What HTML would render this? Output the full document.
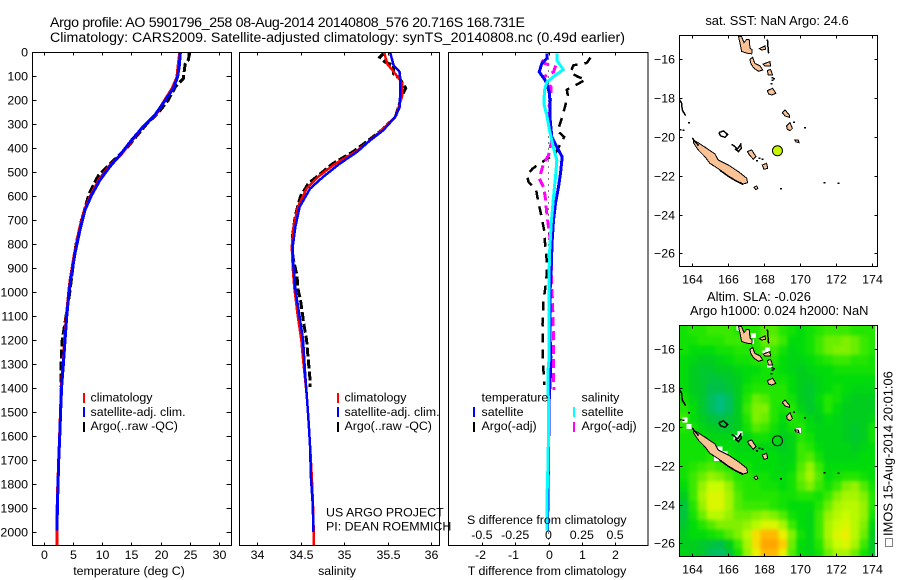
<!DOCTYPE html>
<html lang="en">
<head>
<meta charset="utf-8">
<title>Argo profile 5901796_258</title>
<style>
html,body{margin:0;padding:0;background:#fff;}
svg{display:block;}
text{font-family:"Liberation Sans",Arial,sans-serif;font-size:12.4px;fill:#000;}
.title{font-size:14.2px;}
.maptitle{font-size:12.9px;}
</style>
</head>
<body>
<svg id="chart" width="900" height="580" viewBox="0 0 900 580" xmlns="http://www.w3.org/2000/svg">
<defs>
<clipPath id="clip-top-map"><rect x="679.5" y="35.5" width="198" height="231"/></clipPath>
<clipPath id="clip-bottom-map"><rect x="679.5" y="325.5" width="198" height="231"/></clipPath>
<clipPath id="clip-p1"><rect x="32.5" y="52.5" width="199" height="493"/></clipPath>
<clipPath id="clip-p2"><rect x="239.5" y="52.5" width="200" height="493"/></clipPath>
<clipPath id="clip-p3"><rect x="448.5" y="52.5" width="199.5" height="493"/></clipPath>
<filter id="sla-smooth" filterUnits="userSpaceOnUse" x="640" y="290" width="260" height="290" color-interpolation-filters="sRGB"><feGaussianBlur stdDeviation="1.8"/></filter>
</defs>
<g id="layer-marks"></g>
<text class="title" x="50" y="27" textLength="475" lengthAdjust="spacing">Argo profile: AO 5901796_258 08-Aug-2014 20140808_576 20.716S 168.731E</text>
<text class="title" x="50" y="42" textLength="575" lengthAdjust="spacing">Climatology: CARS2009. Satellite-adjusted climatology: synTS_20140808.nc (0.49d earlier)</text>
<text x="129" y="575" text-anchor="middle">temperature (deg C)</text>
<text x="337" y="575" text-anchor="middle">salinity</text>
<text x="547" y="575" text-anchor="middle">T difference from climatology</text>
<text x="467" y="524">S difference from climatology</text>
<text class="maptitle" x="777" y="25" text-anchor="middle">sat. SST: NaN Argo: 24.6</text>
<text class="maptitle" x="707" y="301">Altim. SLA: -0.026</text>
<text class="maptitle" x="690" y="315">Argo h1000: 0.024 h2000: NaN</text>
<text x="326" y="516.7">US ARGO PROJECT</text>
<text x="326" y="530.7">PI: DEAN ROEMMICH</text>
<text x="90.5" y="401.7">climatology</text>
<text x="90.5" y="416">satellite-adj. clim.</text>
<text x="90.5" y="430">Argo(..raw -QC)</text>
<text x="344.5" y="401.7">climatology</text>
<text x="344.5" y="416">satellite-adj. clim.</text>
<text x="344.5" y="430">Argo(..raw -QC)</text>
<text x="481.5" y="401.7">temperature</text>
<text x="481.5" y="416">satellite</text>
<text x="481.5" y="430">Argo(-adj)</text>
<text x="581.5" y="401.7">salinity</text>
<text x="581.5" y="416">satellite</text>
<text x="581.5" y="430">Argo(-adj)</text>
<text class="maptitle" transform="translate(892.5,536) rotate(-90)">IMOS 15-Aug-2014 20:01:06</text>
<rect x="885.5" y="538.5" width="7" height="8" fill="none" stroke="#000" stroke-dasharray="1 1" shape-rendering="crispEdges"/>
</svg>
<script>
// ---- profile data ----
const depthTicks = [0,100,200,300,400,500,600,700,800,900,1000,1100,1200,1300,1400,1500,1600,1700,1800,1900,2000];
const temperatureTicks = [0,5,10,15,20,25,30];
const salinityTicks = [34,34.5,35,35.5,36];
const salinityTickLabels = ['34','34.5','35','35.5','36'];
const tDiffTicks = [-2,-1,0,1,2];
const sDiffTicks = [-0.5,-0.25,0,0.25,0.5];
const sDiffTickLabels = ['-0.5','-0.25','0','0.25','0.5'];

const tempSatDepth = [0,60,104,150,192,261,310,365,428,476,532,594,657,740,837,949,992,1102,1200,1304,1394,1498,1603,1700,1804,1894,1992];
const tempSat = [23.4,23.2,22.9,22.2,21.05,19.06,17.06,15.07,13.08,11.37,9.66,8.24,7.09,6.24,5.38,4.65,4.4,3.96,3.68,3.39,3.1,2.93,2.77,2.6,2.48,2.37,2.3];
const tempClimDepth = [0,60,104,150,192,261,310,365,428,476,532,594,657,740,837,949,992,1102,1200,1304,1394,1498,1603,1700,1804,1894,1992,2054];
const tempClim = [23.3,23.0,22.8,22.0,20.9,19.2,17.0,15.2,13.2,11.2,9.45,8.1,7.0,6.1,5.3,4.55,4.35,3.9,3.6,3.35,3.05,2.9,2.75,2.6,2.45,2.35,2.3,2.28];
const tempArgoDepth = [0,30,50,110,140,200,250,300,350,400,450,514,539,589,700,800,900,1000,1200,1300,1394];
const tempArgo = [24.9,24.8,24.2,23.9,22.65,21.3,19.7,17.6,15.9,14.2,12.0,9.37,8.8,7.8,6.5,5.55,5.0,4.5,3.2,3.0,2.95];

const salSatDepth = [0,54,82,130,228,269,325,367,415,464,519,568,644,728,811,894,985,1102,1200,1318,1422,1519,1644,1769,1880,1998];
const salSat = [35.53,35.57,35.64,35.65,35.64,35.59,35.45,35.30,35.15,34.95,34.76,34.61,34.49,34.44,34.41,34.42,34.44,34.49,34.53,34.55,34.57,34.59,34.61,34.62,34.64,34.65];
const salClimDepth = [0,50,80,130,180,228,269,325,367,415,464,519,568,644,728,811,894,985,1102,1200,1280,1422,1519,1644,1770,1900,2054];
const salClim = [35.46,35.50,35.57,35.67,35.67,35.63,35.59,35.43,35.30,35.13,34.90,34.70,34.57,34.47,34.42,34.40,34.41,34.43,34.47,34.51,34.53,34.57,34.59,34.61,34.63,34.645,34.655];
const salArgoDepth = [0,20,40,55,90,110,150,170,200,270,325,367,415,464,547,600,680,760,850,930,985,1033,1137,1200,1283,1367,1394];
const salArgo = [35.47,35.41,35.47,35.57,35.57,35.64,35.71,35.68,35.65,35.59,35.43,35.28,35.10,34.87,34.59,34.50,34.44,34.41,34.41,34.46,34.47,34.50,34.54,34.57,34.59,34.61,34.61];

const diffTSatDepth = [5,26,47,82,110,130,172,228,283,353,394,436,505,561,630,700,783,894,985,1061,1200,1269,1367,1450,1686,1992];
const diffTSat = [-0.05,-0.05,-0.2,-0.28,-0.13,-0.05,0.03,0.05,0.05,0.1,0.25,0.41,0.36,0.3,0.21,0.15,0.11,0.08,0.05,0.05,0.05,0.07,0.05,0.02,0,-0.03];
const diffSSatDepth = [5,33,72,96,124,158,214,262,325,394,450,505,603,714,839,985,1131,1269,1339,1478,1686,1825,1992];
const diffSSat = [0.065,0.0625,0.11,0.05,-0.0125,-0.03,-0.035,-0.0125,0.0075,0.035,0.0625,0.055,0.0375,0.02,0.0075,0.0025,0.005,0.005,-0.005,0,-0.0025,-0.01,-0.01];
const diffTArgoDepth = [22,44,54,85,103,114,156,179,214,276,328,353,422,467,485,512,540,575,630,658,749,811,867,922,985,1034,1131,1269,1387];
const diffTArgo = [1.26,1.15,0.75,0.65,0.9,1.12,0.55,0.58,0.52,0.4,0.27,0.47,0.2,-0.3,-0.48,-0.65,-0.6,-0.37,-0.3,-0.25,-0.12,-0.1,-0.05,-0.05,-0.1,-0.15,-0.18,-0.17,-0.13];
const diffSArgoDepth = [33,47,61,82,103,130,144,207,255,367,429,464,526,561,603,672,728,811,985,1034,1200,1408];
const diffSArgo = [-0.05,-0.025,0.05,0.0375,-0.0375,-0.0125,0.02,0.0125,-0.0125,0.025,0,-0.0375,-0.07,-0.0375,-0.025,-0.0125,0,0.02,0.025,0.03,0.0375,0.04];

// ---- map data ----
const lonTicks = [164,166,168,170,172,174];
const latTicks = [-16,-18,-20,-22,-24,-26];
const floatLon = 168.731;
const floatLat = -20.716;
const slaGridStartLon = 163.3;
const slaGridStartLat = -14.8;
const slaGridStep = 0.5;
// sea level anomaly, cm, rows north to south, columns west to east
const slaValues = [
[1,2,2,3,3,3,2,2,2,4,4,2,1,0,1,2,3,3,3,2,2,2],
[1,1,2,2,2,3,3,2,2,5,5,3,0,0,1,3,5,5,6,5,3,2],
[1,0,0,0,1,1,2,2,2,3,3,1,-1,0,1,3,5,6,6,5,3,2],
[0,-1,-2,-2,-1,0,1,1,2,2,2,0,-1,-1,0,1,2,3,3,2,2,1],
[0,-2,-3,-3,-2,-2,-1,0,0,1,1,0,-1,-2,-1,0,0,1,1,1,1,1],
[0,-2,-3,-4,-4,-3,-2,0,1,1,1,1,0,-2,-2,-1,0,0,0,0,0,0],
[0,-2,-3,-5,-5,-4,-2,1,2,2,2,2,0,-2,-3,-1,0,1,0,-1,-1,-1],
[1,-1,-3,-6,-8,-6,-2,2,5,4,2,2,1,-2,-3,0,2,1,-1,-2,-2,-2],
[2,0,-3,-6,-8,-6,-2,3,6,6,2,1,2,-1,-3,-1,2,0,-2,-2,-2,-2],
[3,0,-2,-4,-5,-4,-2,2,6,5,2,0,2,1,-1,-2,0,-1,-2,-2,-2,-1],
[2,1,-1,-2,-3,-3,-2,1,4,3,1,-1,1,2,0,-1,-1,-1,-2,-3,-2,1],
[1,1,0,-1,-1,-1,-1,-1,1,1,0,-2,-1,2,1,-1,-1,-1,-2,-3,-2,1],
[1,1,1,1,0,0,-1,-1,-1,-1,-1,-2,-1,3,2,0,-1,-1,-1,-2,-1,0],
[1,1,1,2,1,1,0,0,0,0,0,-1,-1,3,4,1,-1,-1,-1,-1,0,0],
[1,2,3,4,3,2,1,1,0,0,0,-1,0,4,7,3,0,0,0,0,0,0],
[1,3,5,7,6,4,2,2,1,1,0,0,1,5,8,4,0,1,2,2,1,0],
[0,3,7,10,10,7,3,2,2,1,1,0,1,4,6,3,1,3,6,7,4,1],
[-2,3,8,11,11,8,4,2,2,2,2,1,1,2,2,1,3,6,8,8,6,2],
[-4,2,7,11,11,8,4,3,3,3,2,1,0,0,0,2,5,8,9,9,7,2],
[-4,1,5,9,9,7,5,5,6,7,6,4,1,0,-1,3,7,9,10,9,7,1],
[-3,0,2,4,6,6,6,7,9,11,11,8,3,0,-1,3,8,10,11,9,6,-1],
[-2,0,0,1,2,4,6,9,13,15,15,12,6,1,-1,3,8,11,12,9,5,-2],
[-2,-2,-3,-4,-5,-2,3,8,13,17,18,14,5,0,-1,2,7,10,11,8,3,-3],
[-1,-2,-3,-6,-7,-4,1,7,12,15,15,12,4,0,-1,1,5,8,8,5,1,-2]
];
const slaNoData = [[163.6,-19.64],[163.83,-19.99],[166.43,-20.54],[166.65,-20.33],[167.3,-15.6],[166.6,-14.9],[168.04,-16.2],[168.28,-16.8],[169.89,-20.19],[165.54,-21.15],[165.81,-21.36],[165.35,-21.62],[168.17,-16.03],[167.4,-15.3]];
const islandShapes = [
[[164.06,-20.16],[164.33,-20.30],[164.80,-20.59],[165.26,-20.88],[165.44,-21.19],[166.00,-21.45],[166.56,-21.79],[167.02,-22.13],[167.07,-22.36],[166.83,-22.43],[166.37,-22.22],[166.00,-22.01],[165.54,-21.70],[164.98,-21.36],[164.70,-21.02],[164.33,-20.67],[164.06,-20.30]],
[[166.56,-14.80],[166.74,-14.83],[166.87,-15.14],[167.02,-14.97],[167.17,-15.00],[167.20,-15.42],[167.33,-15.51],[167.30,-15.72],[167.02,-15.68],[166.74,-15.60],[166.65,-15.17]],
[[167.20,-16.0],[167.35,-15.90],[167.48,-16.21],[167.76,-16.34],[167.91,-16.55],[167.67,-16.62],[167.43,-16.46],[167.26,-16.24]],
[[167.72,-15.45],[168.04,-15.31],[168.07,-15.48],[167.85,-15.52]],
[[167.94,-16.24],[168.31,-16.12],[168.35,-16.34],[168.04,-16.34]],
[[168.17,-16.58],[168.35,-16.52],[168.46,-16.81],[168.22,-16.81]],
[[168.17,-17.62],[168.46,-17.49],[168.65,-17.75],[168.41,-17.84],[168.24,-17.79]],
[[169.0,-18.75],[169.15,-18.61],[169.39,-18.87],[169.39,-18.99],[169.15,-18.92]],
[[169.24,-19.44],[169.43,-19.26],[169.56,-19.56],[169.43,-19.68],[169.28,-19.61]],
[[169.70,-20.16],[169.89,-20.16],[169.93,-20.30],[169.76,-20.26]],
[[167.06,-20.76],[167.30,-20.67],[167.54,-21.02],[167.39,-21.15],[167.17,-20.93]],
[[167.89,-21.45],[168.13,-21.36],[168.19,-21.62],[167.98,-21.67]],
[[167.43,-22.60],[167.57,-22.53],[167.65,-22.65],[167.52,-22.72]]
];
const reefOutlines = [
[[165.48,-19.78],[165.72,-19.69],[165.96,-19.87],[165.81,-20.02],[165.57,-19.95],[165.48,-19.78]],
[[166.19,-20.38],[166.37,-20.50],[166.5,-20.62],[166.61,-20.50],[166.69,-20.38],[166.72,-20.58],[166.56,-20.76],[166.37,-20.62]],
[[168.17,-14.97],[168.20,-15.3],[168.24,-15.69]],
[[163.28,-18.06],[163.41,-18.27],[163.44,-18.61],[163.63,-18.90]],
[[164.0,-20.05],[164.2,-20.3],[164.35,-20.45]],
[[165.54,-21.72],[166.0,-22.03],[166.37,-22.24],[166.83,-22.45]]
];
const reefDots = [[168.46,-17.07],[168.41,-17.24],[163.83,-19.25],[163.35,-19.61],[163.5,-19.65],[169.65,-19.24],[170.26,-19.52],[168.93,-22.65],[171.35,-22.34],[172.11,-22.37],[167.72,-21.1],[167.9,-21.15],[167.6,-21.22],[168.45,-16.95],[168.55,-17.0]];

// ---- axis functions ----
const depthY = d => 52.3 + d * 0.24;
const tempX = t => 43.5 + t * 5.85;
const salX = s => 257 + (s - 34) * 87;
const tDiffX = t => 548.5 + t * 33.3;
const sDiffX = s => 548.5 + s * 4 * 33.3;
const lonX = lon => 692.3 + (lon - 164) * 18;
const latYTop = lat => 59.3 + (-16 - lat) * 19.4;
const latYBottom = lat => 349.3 + (-16 - lat) * 19.4;

const NS = 'http://www.w3.org/2000/svg';
const layer = document.getElementById('layer-marks');
function mk(tag, attrs, parent) {
  const el = document.createElementNS(NS, tag);
  for (const k in attrs) el.setAttribute(k, attrs[k]);
  (parent || layer).appendChild(el);
  return el;
}
function series(name, depths, vals, xf, color, width, dash, clip) {
  const pts = depths.map((d, i) => xf(vals[i]).toFixed(1) + ',' + depthY(d).toFixed(1)).join(' ');
  const attrs = {points: pts, fill: 'none', stroke: color, 'stroke-width': width, 'shape-rendering': 'crispEdges', 'clip-path': 'url(#' + clip + ')'};
  if (dash) attrs['stroke-dasharray'] = dash;
  const el = mk('polyline', attrs);
  
  
}
function line(name, x1, y1, x2, y2, color, width, dash) {
  const attrs = {x1: x1, y1: y1, x2: x2, y2: y2, stroke: color || '#000', 'stroke-width': width || 1, 'shape-rendering': 'crispEdges'};
  if (dash) attrs['stroke-dasharray'] = dash;
  const el = mk('line', attrs);
  
  
}
function label(name, x, y, str, anchor) {
  const el = mk('text', {x: x, y: y, 'text-anchor': anchor});
  el.textContent = str;
  
  
}
function box(name, x, y, w, h) {
  const el = mk('rect', {x: x, y: y, width: w, height: h, fill: 'none', stroke: '#000', 'stroke-width': 1, 'shape-rendering': 'crispEdges'});
  
  
}

// ---- profile panels ----
const P = {top: 52.5, bottom: 545.5};
const panels = [
  {id: 'temperature', l: 32.5, r: 231.5},
  {id: 'salinity', l: 239.5, r: 439.5},
  {id: 'difference', l: 448.5, r: 648}
];

// zero line for difference panel
line('zero-difference-line', 548.5, 52.5, 548.5, 545.5, '#000', 1, '1 5');

series('temperature-argo-line', tempArgoDepth, tempArgo, tempX, '#000', 3, '9 3', 'clip-p1');
series('temperature-climatology-line', tempClimDepth, tempClim, tempX, '#f00', 3, null, 'clip-p1');
series('temperature-satellite-line', tempSatDepth, tempSat, tempX, '#00f', 3, null, 'clip-p1');
series('salinity-argo-line', salArgoDepth, salArgo, salX, '#000', 3, '9 3', 'clip-p2');
series('salinity-climatology-line', salClimDepth, salClim, salX, '#f00', 2.5, null, 'clip-p2');
series('salinity-satellite-line', salSatDepth, salSat, salX, '#00f', 2.5, null, 'clip-p2');
series('t-diff-argo-line', diffTArgoDepth, diffTArgo, tDiffX, '#000', 2.5, '9 7', 'clip-p3');
series('s-diff-argo-line', diffSArgoDepth, diffSArgo, sDiffX, '#f0f', 3, '9 5', 'clip-p3');
series('t-diff-satellite-line', diffTSatDepth, diffTSat, tDiffX, '#00f', 3, null, 'clip-p3');
series('s-diff-satellite-line', diffSSatDepth, diffSSat, sDiffX, '#0ff', 3, null, 'clip-p3');

panels.forEach(p => box(p.id + '-panel-frame', p.l, P.top, p.r - p.l, P.bottom - P.top));

depthTicks.forEach(d => {
  const y = Math.round(depthY(d)) + 0.5;
  line('depth-tick-left', 32.5, y, 36.5, y);
  line('depth-tick-right', 231.5, y, 226.5, y);
  label('depth-tick-label', 28, y + 4, String(d), 'end');
});
temperatureTicks.forEach(t => {
  const x = Math.round(tempX(t)) + 0.5;
  line('temperature-tick-top', x, 52.5, x, 55.5);
  line('temperature-tick-bottom', x, 545.5, x, 542.5);
  label('temperature-tick-label', x, 559, String(t), 'middle');
});
salinityTicks.forEach((s, i) => {
  const x = Math.round(salX(s)) + 0.5;
  line('salinity-tick-top', x, 52.5, x, 55.5);
  line('salinity-tick-bottom', x, 545.5, x, 542.5);
  label('salinity-tick-label', x, 559, salinityTickLabels[i], 'middle');
});
tDiffTicks.forEach(t => {
  const x = Math.round(tDiffX(t)) + 0.5;
  line('t-diff-tick-top', x, 52.5, x, 55.5);
  line('t-diff-tick-bottom', x, 545.5, x, 542.5);
  label('t-diff-tick-label', x - (t < 0 ? 2 : 0), 559, String(t), 'middle');
});
sDiffTicks.forEach((s, i) => {
  label('s-diff-tick-label', sDiffX(s), 539, sDiffTickLabels[i], 'middle');
});

// legend swatches
function swatch(name, x, y1, y2, color) {
  const el = mk('rect', {x: x, y: y1, width: 2, height: y2 - y1, fill: color, 'shape-rendering': 'crispEdges'});
  
  
}
swatch('temperature-legend-swatch-climatology', 83, 393, 403, '#f00');
swatch('temperature-legend-swatch-satellite', 83, 407, 417, '#00f');
swatch('temperature-legend-swatch-argo', 83, 422, 432, '#000');
swatch('salinity-legend-swatch-climatology', 337, 393, 403, '#f00');
swatch('salinity-legend-swatch-satellite', 337, 407, 417, '#00f');
swatch('salinity-legend-swatch-argo', 337, 422, 432, '#000');
swatch('diff-legend-swatch-t-satellite', 473, 407, 417, '#00f');
swatch('diff-legend-swatch-t-argo', 473, 422, 432, '#000');
swatch('diff-legend-swatch-s-satellite', 573, 407, 417, '#0ff');
swatch('diff-legend-swatch-s-argo', 573, 422, 432, '#f0f');

// ---- heatmap ----
const cmapStops = [
  [-8,0,190,125],[-5,0,192,75],[-2,0,205,30],[0,0,220,10],[2,35,230,0],[5,105,238,0],
  [7,150,242,0],[10,200,252,0],[12,235,240,0],[14,255,205,0],[16,255,165,0]
];
function slaColor(v) {
  for (let i = 1; i < cmapStops.length; i++) {
    if (v <= cmapStops[i][0]) {
      const a = cmapStops[i - 1], b = cmapStops[i];
      const f = Math.max(0, (v - a[0]) / (b[0] - a[0]));
      return 'rgb(' + [1, 2, 3].map(k => Math.round(a[k] + (b[k] - a[k]) * f)).join(',') + ')';
    }
  }
  return 'rgb(255,165,0)';
}
const heat = mk('g', {'clip-path': 'url(#clip-bottom-map)'});


const heatCells = mk('g', {filter: 'url(#sla-smooth)'}, heat);


const lastRow = slaValues.length - 1;
slaValues.forEach((row, r) => {
  row.forEach((v, c) => {
    // outer cells bleed past the clip so the smoothing does not fade at the frame
    const x0 = lonX(slaGridStartLon + c * slaGridStep) - (c === 0 ? 20 : 0);
    const x1 = lonX(slaGridStartLon + (c + 1) * slaGridStep) + (c === row.length - 1 ? 20 : 0);
    const y0 = latYBottom(slaGridStartLat - r * slaGridStep) - (r === 0 ? 20 : 0);
    const y1 = latYBottom(slaGridStartLat - (r + 1) * slaGridStep) + (r === lastRow ? 20 : 0);
    const cell = mk('rect', {x: x0, y: y0, width: x1 - x0 + 0.5, height: y1 - y0 + 0.5, fill: slaColor(v), 'shape-rendering': 'crispEdges'}, heatCells);
    
    
  });
});
const edgeStrip = mk('rect', {x: 875, y: 325.5, width: 3, height: 231, fill: '#fff'}, heat);


slaNoData.forEach(p => {
  const nd = mk('rect', {x: lonX(p[0]) - 2.5, y: latYBottom(p[1]) - 2.5, width: 5, height: 5, fill: '#fff', 'shape-rendering': 'crispEdges'}, heat);
  
  
});

// ---- maps ----
function drawMap(prefix, latY, clip, floatFill, frameTop) {
  const g = mk('g', {'clip-path': 'url(#' + clip + ')'});
  
  
  const proj = pts => pts.map(p => lonX(p[0]).toFixed(1) + ',' + latY(p[1]).toFixed(1)).join(' ');
  islandShapes.forEach(s => {
    const isl = mk('polygon', {points: proj(s), fill: '#fbc295', stroke: '#000', 'stroke-width': 1, 'shape-rendering': 'crispEdges'}, g);
    
    
  });
  reefOutlines.forEach(s => {
    const reef = mk('polyline', {points: proj(s), fill: 'none', stroke: '#000', 'stroke-width': 1.5, 'shape-rendering': 'crispEdges'}, g);
    
    
  });
  reefDots.forEach(p => {
    const dot = mk('rect', {x: lonX(p[0]) - 1, y: latY(p[1]) - 0.5, width: 2, height: 1.5, fill: '#000', 'shape-rendering': 'crispEdges'}, g);
    
    
  });
  const fl = mk('circle', {cx: lonX(floatLon), cy: latY(floatLat), r: 5, fill: floatFill, stroke: '#000', 'stroke-width': 1}, g);
  
  
  box(prefix + '-frame', 679.5, frameTop, 198, 231);
  lonTicks.forEach(lon => {
    const x = Math.round(lonX(lon)) + 0.5;
    line(prefix + '-lon-tick-top', x, frameTop, x, frameTop + 3);
    line(prefix + '-lon-tick-bottom', x, frameTop + 231, x, frameTop + 228);
    label(prefix + '-lon-label', x, frameTop + 248, String(lon), 'middle');
  });
  latTicks.forEach(lat => {
    const y = Math.round(latY(lat)) + 0.5;
    line(prefix + '-lat-tick-left', 679.5, y, 682.5, y);
    line(prefix + '-lat-tick-right', 877.5, y, 874.5, y);
    label(prefix + '-lat-label', 675, y + 4, '\u2212' + Math.abs(lat), 'end');
  });
}
drawMap('sst-map', latYTop, 'clip-top-map', '#c8f500', 35.5);
drawMap('sla-map', latYBottom, 'clip-bottom-map', 'none', 325.5);
</script>
</body>
</html>
